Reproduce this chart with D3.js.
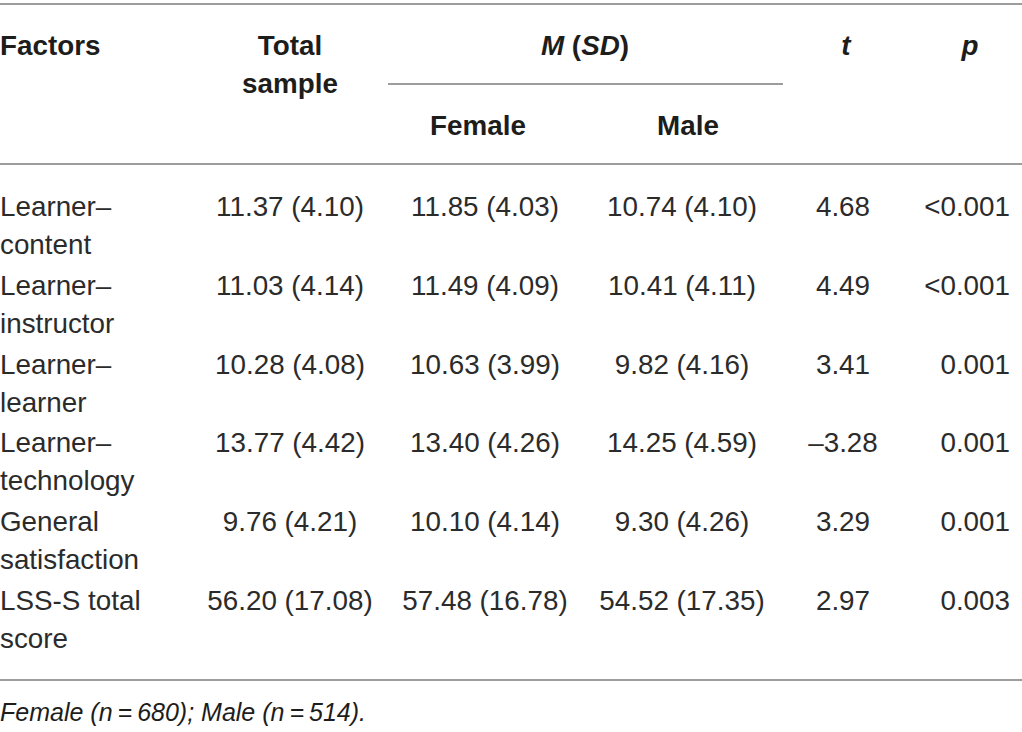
<!DOCTYPE html>
<html>
<head>
<meta charset="utf-8">
<script src="https://cdn.jsdelivr.net/npm/d3@7"></script>
<style>
  html, body { margin: 0; padding: 0; background: #fff; }
  svg text { font-family: "Liberation Sans", Arial, sans-serif; fill: #1d1d1b; }
  svg .body text { fill: #2b2b2b; }
</style>
</head>
<body>
<div class="table-wrapper"></div>
<script>
// table values
const factors = [
  ['Learner–', 'content'],
  ['Learner–', 'instructor'],
  ['Learner–', 'learner'],
  ['Learner–', 'technology'],
  ['General', 'satisfaction'],
  ['LSS-S total', 'score']
];
const totalM = [11.37, 11.03, 10.28, 13.77, 9.76, 56.20];
const totalSD = [4.10, 4.14, 4.08, 4.42, 4.21, 17.08];
const femaleM = [11.85, 11.49, 10.63, 13.40, 10.10, 57.48];
const femaleSD = [4.03, 4.09, 3.99, 4.26, 4.14, 16.78];
const maleM = [10.74, 10.41, 9.82, 14.25, 9.30, 54.52];
const maleSD = [4.10, 4.11, 4.16, 4.59, 4.26, 17.35];
const tValues = [4.68, 4.49, 3.41, -3.28, 3.29, 2.97];
const pValues = ['<0.001', '<0.001', '0.001', '0.001', '0.001', '0.003'];

const width = 1022, height = 732;
const fontSize = 27.8;

const svg = d3.select('.table-wrapper')
  .append('svg')
  .attr('width', width)
  .attr('height', height);

const f2 = d3.format('.2f');
const msd = (m, sd) => f2(m) + ' (' + f2(sd) + ')';
const tFmt = v => (v < 0 ? '–' : '') + f2(Math.abs(v));

// row baselines
const y = d3.scalePoint()
  .domain(d3.range(factors.length))
  .range([216, 610]);
const lineGap = 38;

// column positions
const col = { factor: 0, total: 290, female: 485, male: 682, t: 843, p: 1010 };

// rules
const rule = (x1, x2, yy) => svg.append('line')
  .attr('x1', x1).attr('x2', x2)
  .attr('y1', yy).attr('y2', yy)
  .attr('stroke', '#9d9d9d')
  .attr('stroke-width', 2);

rule(0, width, 4);
rule(388, 783, 84);
rule(0, width, 164);
rule(0, width, 680);

// header
const head = svg.append('g')
  .attr('font-size', fontSize)
  .attr('font-weight', 700);

head.append('text').attr('x', col.factor).attr('y', 55).text('Factors');
head.append('text').attr('x', col.total).attr('y', 55).attr('text-anchor', 'middle').text('Total');
head.append('text').attr('x', col.total).attr('y', 93).attr('text-anchor', 'middle').text('sample');

const msdHead = head.append('text').attr('x', 585).attr('y', 55).attr('text-anchor', 'middle');
msdHead.append('tspan').attr('font-style', 'italic').text('M');
msdHead.append('tspan').text(' (');
msdHead.append('tspan').attr('font-style', 'italic').text('SD');
msdHead.append('tspan').text(')');

head.append('text').attr('x', 846).attr('y', 55).attr('text-anchor', 'middle').attr('font-style', 'italic').text('t');
head.append('text').attr('x', 970).attr('y', 55).attr('text-anchor', 'middle').attr('font-style', 'italic').text('p');
head.append('text').attr('x', 478).attr('y', 135).attr('text-anchor', 'middle').text('Female');
head.append('text').attr('x', 688).attr('y', 135).attr('text-anchor', 'middle').text('Male');

// body rows
const rows = svg.append('g')
  .attr('class', 'body')
  .attr('font-size', fontSize)
  .selectAll('g')
  .data(factors.map((f, i) => ({
    label: f,
    total: msd(totalM[i], totalSD[i]),
    female: msd(femaleM[i], femaleSD[i]),
    male: msd(maleM[i], maleSD[i]),
    t: tFmt(tValues[i]),
    p: pValues[i]
  })))
  .enter()
  .append('g')
  .attr('transform', (d, i) => `translate(0,${y(i)})`);

rows.each(function(d) {
  const g = d3.select(this);
  d.label.forEach((l, j) => {
    g.append('text').attr('x', col.factor).attr('y', j * lineGap).text(l);
  });
  ['total', 'female', 'male', 't'].forEach(k => {
    g.append('text').attr('x', col[k]).attr('text-anchor', 'middle').text(d[k]);
  });
  g.append('text').attr('x', col.p).attr('text-anchor', 'end').text(d.p);
});

// footnote
svg.append('text')
  .attr('x', 0).attr('y', 721)
  .attr('font-size', 25)
  .attr('font-style', 'italic')
  .attr('fill', '#2b2b2b')
  .text('Female (n\u2009=\u2009680); Male (n\u2009=\u2009514).');
</script>
</body>
</html>
